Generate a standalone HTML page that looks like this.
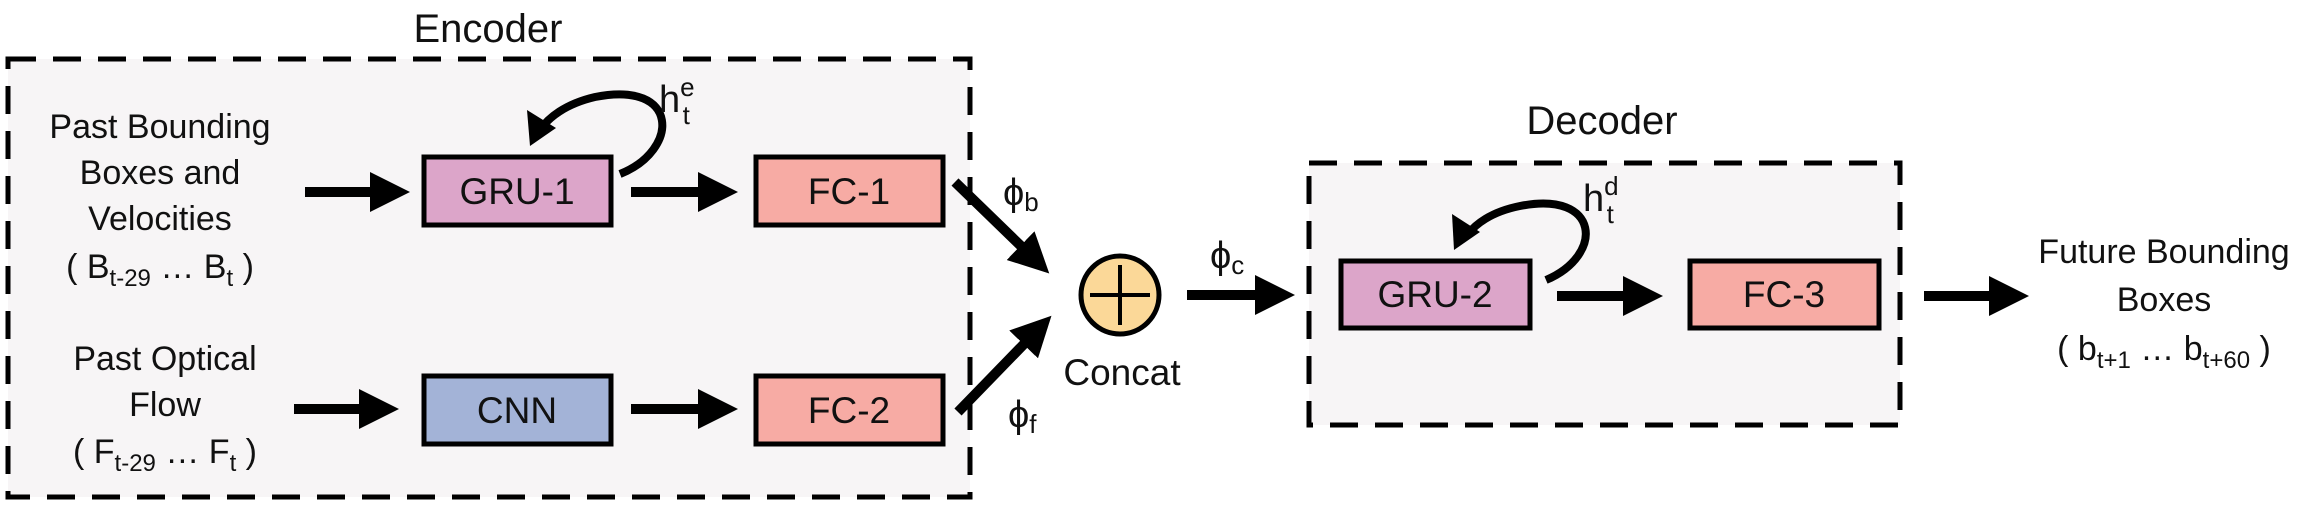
<!DOCTYPE html>
<html><head><meta charset="utf-8"><style>
html,body{margin:0;padding:0;background:#fff;}
svg{display:block;}
text{font-family:"Liberation Sans",sans-serif;fill:#111;}
</style></head><body>
<svg width="2308" height="508" viewBox="0 0 2308 508" xmlns="http://www.w3.org/2000/svg">
<defs>
<marker id="ah" markerWidth="4" markerHeight="4" refX="0.2" refY="2" orient="auto" markerUnits="strokeWidth">
<path d="M0,0 L4,2 L0,4 z" fill="#000"/></marker>
</defs>
<!-- Encoder box -->
<rect x="8" y="59" width="962" height="438" fill="#f7f5f6" stroke="#000" stroke-width="5" stroke-dasharray="28,17"/>
<text x="488" y="42" font-size="40" text-anchor="middle">Encoder</text>
<!-- Decoder box -->
<rect x="1309" y="163" width="591" height="262" fill="#f7f5f6" stroke="#000" stroke-width="5" stroke-dasharray="28,17"/>
<text x="1602" y="134" font-size="40" text-anchor="middle">Decoder</text>

<!-- input texts -->
<g font-size="34" text-anchor="middle">
<text x="160" y="138">Past Bounding</text>
<text x="160" y="184">Boxes and</text>
<text x="160" y="230">Velocities</text>
<text x="160" y="278">( B<tspan font-size="24" dy="8">t-29</tspan><tspan dy="-8"> … B</tspan><tspan font-size="24" dy="8">t</tspan><tspan dy="-8"> )</tspan></text>
<text x="165" y="370">Past Optical</text>
<text x="165" y="416">Flow</text>
<text x="165" y="463">( F<tspan font-size="24" dy="8">t-29</tspan><tspan dy="-8"> … F</tspan><tspan font-size="24" dy="8">t</tspan><tspan dy="-8"> )</tspan></text>
<text x="2164" y="263">Future Bounding</text>
<text x="2164" y="311">Boxes</text>
<text x="2164" y="360">( b<tspan font-size="24" dy="8">t+1</tspan><tspan dy="-8"> … b</tspan><tspan font-size="24" dy="8">t+60</tspan><tspan dy="-8"> )</tspan></text>
</g>

<!-- boxes -->
<g stroke="#000" stroke-width="5">
<rect x="424" y="157" width="187" height="68" fill="#dca5c9"/>
<rect x="756" y="157" width="187" height="68" fill="#f7aba4"/>
<rect x="424" y="376" width="187" height="68" fill="#a3b3d7"/>
<rect x="756" y="376" width="187" height="68" fill="#f7aba4"/>
<rect x="1341" y="261" width="189" height="67" fill="#dca5c9"/>
<rect x="1690" y="261" width="189" height="67" fill="#f7aba4"/>
</g>
<g font-size="37" text-anchor="middle">
<text x="517" y="204">GRU-1</text>
<text x="849" y="204">FC-1</text>
<text x="517" y="423">CNN</text>
<text x="849" y="423">FC-2</text>
<text x="1435" y="307">GRU-2</text>
<text x="1784" y="307">FC-3</text>
</g>

<!-- arrows -->
<g stroke="#000" stroke-width="10" fill="none" marker-end="url(#ah)">
<line x1="305" y1="192" x2="372" y2="192"/>
<line x1="294" y1="409" x2="361" y2="409"/>
<line x1="631" y1="192" x2="700" y2="192"/>
<line x1="631" y1="409" x2="700" y2="409"/>
<line x1="955" y1="182" x2="1022" y2="247"/>
<line x1="958" y1="412" x2="1025" y2="343"/>
<line x1="1187" y1="295" x2="1257" y2="295"/>
<line x1="1557" y1="296" x2="1625" y2="296"/>
<line x1="1924" y1="296" x2="1991" y2="296"/>
</g>
<!-- recurrent loops -->
<g stroke="#000" stroke-width="8" fill="none">
<path d="M620,174 C680,150 680,80 595,97 C565,104 548,118 540,130"/>
<path d="M1546,280 C1605,255 1600,190 1520,206 C1490,212 1475,225 1468,234"/>
</g>
<path d="M530,146 L527,110 L556,128 z" fill="#000"/>
<path d="M1454,250 L1452,214 L1480,232 z" fill="#000"/>
<g font-size="38">
<text x="659" y="112">h<tspan font-size="26" dy="-16">e</tspan><tspan font-size="26" dy="28" dx="-12">t</tspan></text>
<text x="1583" y="211">h<tspan font-size="26" dy="-16">d</tspan><tspan font-size="26" dy="28" dx="-12">t</tspan></text>
<text x="1003" y="205">ϕ<tspan font-size="26" dy="6">b</tspan></text>
<text x="1008" y="427">ϕ<tspan font-size="26" dy="6">f</tspan></text>
<text x="1210" y="268">ϕ<tspan font-size="26" dy="6">c</tspan></text>
</g>
<!-- concat -->
<circle cx="1120" cy="295" r="39" fill="#fbd898" stroke="#000" stroke-width="5"/>
<line x1="1090" y1="295" x2="1150" y2="295" stroke="#000" stroke-width="4"/>
<line x1="1120" y1="265" x2="1120" y2="325" stroke="#000" stroke-width="4"/>
<text x="1122" y="385" font-size="37" text-anchor="middle">Concat</text>
</svg>
</body></html>
